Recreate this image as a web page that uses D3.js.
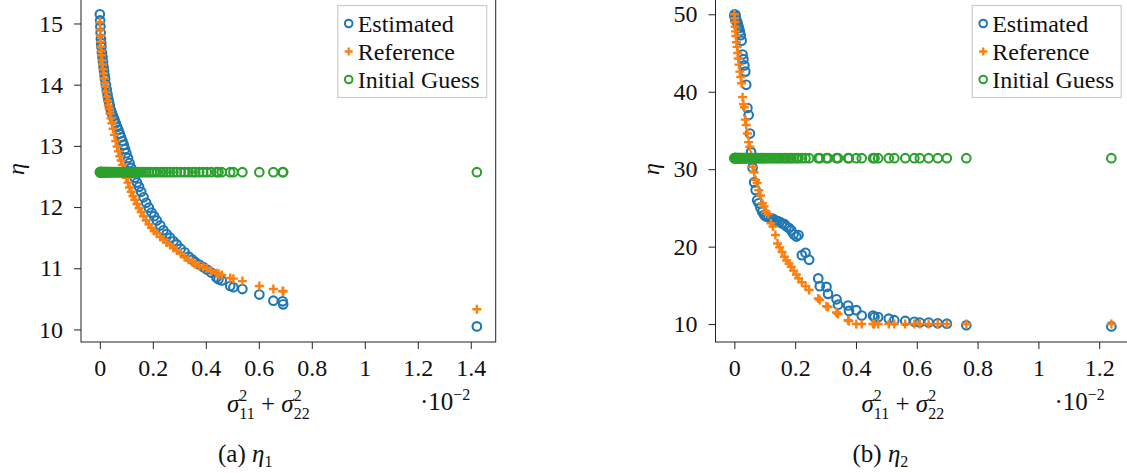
<!DOCTYPE html>
<meta charset="utf-8">
<style>
  body { margin: 0; background: #fff; }
  text { font-family: "Liberation Serif", "Times New Roman", serif; }
</style>
<div id="chart"></div>
<script src="https://d3js.org/d3.v7.min.js"></script>
<script>

// (a) eta_1 : x is sigma11^2 + sigma22^2 in units of 1e-2
var sigmaA = [0, 0.001, 0.002, 0.003, 0.004, 0.005, 0.006, 0.008, 0.01, 0.012, 0.014, 0.016, 0.018, 0.02,
  0.023, 0.026, 0.029, 0.032, 0.035, 0.038, 0.042, 0.046, 0.05, 0.055, 0.06, 0.065, 0.07, 0.075, 0.08,
  0.085, 0.09, 0.095, 0.1, 0.106, 0.112, 0.118, 0.125, 0.132, 0.14, 0.148, 0.156, 0.165, 0.175, 0.185,
  0.195, 0.205, 0.215, 0.228, 0.24, 0.252, 0.265, 0.278, 0.29, 0.305, 0.32, 0.335, 0.35, 0.36, 0.375,
  0.39, 0.404, 0.42, 0.44, 0.448, 0.46, 0.492, 0.504, 0.538, 0.602, 0.655, 0.69, 0.692, 1.423];
var estA = [15.15, 15.05, 14.95, 14.85, 14.75, 14.68, 14.62, 14.52, 14.45, 14.37, 14.29, 14.22, 14.15, 14.09,
  14.0, 13.92, 13.84, 13.77, 13.71, 13.65, 13.58, 13.53, 13.48, 13.43, 13.37, 13.31, 13.26, 13.2, 13.14,
  13.08, 13.02, 12.95, 12.88, 12.8, 12.72, 12.64, 12.56, 12.48, 12.4, 12.33, 12.25, 12.16, 12.07, 11.99,
  11.91, 11.85, 11.78, 11.7, 11.62, 11.56, 11.5, 11.44, 11.39, 11.32, 11.26, 11.19, 11.14, 11.1, 11.06,
  11.02, 10.98, 10.93, 10.85, 10.82, 10.8, 10.71, 10.69, 10.66, 10.57, 10.47, 10.46, 10.41, 10.05];
var refA = [15.02, 14.9, 14.8, 14.7, 14.62, 14.55, 14.48, 14.4, 14.33, 14.25, 14.18, 14.1, 14.03, 13.97,
  13.88, 13.8, 13.73, 13.66, 13.6, 13.53, 13.45, 13.37, 13.28, 13.18, 13.08, 12.99, 12.91, 12.83, 12.76,
  12.69, 12.62, 12.55, 12.48, 12.4, 12.32, 12.25, 12.18, 12.12, 12.05, 11.98, 11.92, 11.85, 11.78, 11.72,
  11.66, 11.61, 11.57, 11.51, 11.47, 11.42, 11.38, 11.33, 11.29, 11.24, 11.18, 11.14, 11.1, 11.07, 11.04,
  11.02, 11.0, 10.96, 10.92, 10.91, 10.89, 10.84, 10.83, 10.79, 10.71, 10.66, 10.63, 10.62, 10.33];
var guessA = 12.57;

// (b) eta_2
var sigmaB = [0, 0.001, 0.002, 0.003, 0.004, 0.005, 0.007, 0.009, 0.011, 0.013, 0.015, 0.018, 0.021, 0.024,
  0.027, 0.03, 0.033, 0.036, 0.039, 0.043, 0.047, 0.051, 0.055, 0.06, 0.065, 0.07, 0.075, 0.08, 0.086,
  0.092, 0.098, 0.104, 0.112, 0.12, 0.127, 0.135, 0.142, 0.149, 0.157, 0.165, 0.172, 0.18, 0.187, 0.195,
  0.204, 0.211, 0.222, 0.234, 0.246, 0.276, 0.281, 0.303, 0.308, 0.336, 0.341, 0.374, 0.377, 0.401, 0.419,
  0.456, 0.461, 0.473, 0.508, 0.526, 0.562, 0.592, 0.61, 0.639, 0.669, 0.699, 0.763, 1.24];
var estB = [49.8, 50.0, 49.6, 49.3, 49.9, 49.5, 49.2, 49.0, 48.8, 48.5, 48.2, 47.8, 47.3, 46.6,
  44.8, 44.2, 43.4, 42.6, 40.9, 37.9, 37.0, 34.6, 32.2, 30.2, 28.3, 27.3, 26.0, 25.6, 25.0,
  24.5, 24.1, 23.9, 23.8, 23.7, 23.6, 23.4, 23.3, 23.2, 23.0, 22.9, 22.6, 22.4, 22.1, 21.6,
  21.3, 21.5, 18.9, 19.2, 18.3, 15.9, 14.9, 14.8, 13.9, 13.2, 12.5, 12.4, 11.7, 11.8, 11.1,
  11.1, 10.9, 10.9, 10.7, 10.5, 10.4, 10.3, 10.2, 10.2, 10.1, 10.05, 9.85, 9.7];
var refB = [50.0, 49.5, 49.0, 48.4, 47.8, 47.2, 46.4, 45.8, 45.0, 44.3, 43.5, 42.6, 41.9, 41.1,
  39.3, 38.4, 38.0, 36.4, 35.7, 34.6, 33.5, 32.9, 31.8, 30.3, 29.6, 28.6, 28.2, 27.3, 26.6,
  25.6, 25.2, 24.5, 24.2, 23.0, 22.6, 21.5, 20.4, 19.9, 19.3, 18.7, 18.2, 17.8, 17.4, 16.9,
  16.4, 15.9, 15.4, 14.9, 14.4, 13.3, 13.1, 12.3, 12.2, 11.5, 11.3, 10.5, 10.4, 10.0, 10.0,
  10.0, 10.0, 10.0, 10.0, 10.0, 10.0, 10.0, 10.0, 10.0, 10.0, 10.0, 10.0, 10.0];
var guessB = 31.42;

var xTicks = [0, 0.2, 0.4, 0.6, 0.8, 1, 1.2, 1.4];
var yTicksA = [10, 11, 12, 13, 14, 15];
var yTicksB = [10, 20, 30, 40, 50];
var legendLabels = ["Estimated", "Reference", "Initial Guess"];
var colors = ["#1f77b4", "#ff7f0e", "#2ca02c"];

var width = 1127, height = 473;

var svg = d3.select("#chart").append("svg")
    .attr("width", width)
    .attr("height", height);

var panels = [
  { xs: sigmaA, est: estA, ref: refA, guess: guessA, yTicks: yTicksA, left: 81, caption: "a", sub: "1",
    xTicks: xTicks },
  { xs: sigmaB, est: estB, ref: refB, guess: guessB, yTicks: yTicksB, left: 715.5, caption: "b", sub: "2",
    xTicks: xTicks.slice(0, 7) }
];

var plotW = 414.7, plotTop = -1.3, plotBottom = 342;
var fmt = d3.format("");

// pgfplots style: enlarge limits by 5%
function enlarge(ext) {
  var d = (ext[1] - ext[0]) * 0.05;
  return [ext[0] - d, ext[1] + d];
}

function plus(x, y, s) {
  return "M" + (x - s) + "," + y + "H" + (x + s) + "M" + x + "," + (y - s) + "V" + (y + s);
}

panels.forEach(function(p) {
  var allY = p.est.concat(p.ref, [p.guess]);
  var x = d3.scaleLinear().domain(enlarge(d3.extent(p.xs))).range([p.left, p.left + plotW]);
  var y = d3.scaleLinear().domain(enlarge(d3.extent(allY))).range([plotBottom, plotTop]);

  var g = svg.append("g");

  // frame
  g.append("rect")
      .attr("x", p.left).attr("y", plotTop)
      .attr("width", plotW).attr("height", plotBottom - plotTop)
      .attr("fill", "none").attr("stroke", "#222").attr("stroke-width", 1);

  // x axis
  var xAxis = g.append("g")
      .attr("transform", "translate(0," + plotBottom + ")")
      .call(d3.axisBottom(x).tickValues(p.xTicks).tickSize(7).tickPadding(10).tickFormat(fmt));
  xAxis.select(".domain").remove();
  xAxis.selectAll("line").attr("stroke", "#222");
  xAxis.selectAll("text").attr("font-size", 24).attr("fill", "#111");

  // y axis
  var yAxis = g.append("g")
      .attr("transform", "translate(" + p.left + ",0)")
      .call(d3.axisLeft(y).tickValues(p.yTicks).tickSize(7).tickPadding(11).tickFormat(fmt));
  yAxis.select(".domain").remove();
  yAxis.selectAll("line").attr("stroke", "#222");
  yAxis.selectAll("text").attr("font-size", 24).attr("fill", "#111");

  var plot = g.append("g");

  // Estimated
  plot.append("g").selectAll("circle")
    .data(p.xs)
    .enter().append("circle")
      .attr("cx", function(d) { return x(d); })
      .attr("cy", function(d, i) { return y(p.est[i]); })
      .attr("r", 4.3)
      .attr("fill", "none")
      .attr("stroke", colors[0])
      .attr("stroke-width", 2.1);

  // Reference
  plot.append("g").selectAll("path")
    .data(p.xs)
    .enter().append("path")
      .attr("d", function(d, i) { return plus(x(d), y(p.ref[i]), 4.5); })
      .attr("stroke", colors[1])
      .attr("stroke-width", 2.4);

  // Initial guess
  plot.append("g").selectAll("circle")
    .data(p.xs)
    .enter().append("circle")
      .attr("cx", function(d) { return x(d); })
      .attr("cy", y(p.guess))
      .attr("r", 4.3)
      .attr("fill", "none")
      .attr("stroke", colors[2])
      .attr("stroke-width", 2.1);

  // legend
  var lx = p.left + plotW - 158, ly = 5.5;
  var legend = g.append("g").attr("transform", "translate(" + lx + "," + ly + ")");
  legend.append("rect")
      .attr("width", 149).attr("height", 92)
      .attr("fill", "#fff").attr("stroke", "#ccc").attr("stroke-width", 1.2);
  var item = legend.selectAll("g.item")
    .data(legendLabels)
    .enter().append("g")
      .attr("class", "item")
      .attr("transform", function(d, i) { return "translate(11," + (18 + i * 28) + ")"; });
  item.each(function(d, i) {
    var s = d3.select(this);
    if (i === 1) {
      s.append("path").attr("d", plus(0, 0, 4)).attr("stroke", colors[1]).attr("stroke-width", 2.3);
    } else {
      s.append("circle").attr("r", 3.8).attr("fill", "none")
        .attr("stroke", colors[i]).attr("stroke-width", 2);
    }
  });
  item.append("text")
      .attr("x", 9)
      .attr("dy", "0.35em")
      .attr("font-size", 24)
      .attr("fill", "#111")
      .text(function(d) { return d; });

  // y label
  g.append("text")
      .attr("transform", "translate(" + (p.left - 57) + ",169)rotate(-90)")
      .attr("text-anchor", "middle")
      .attr("font-size", 24)
      .attr("font-style", "italic")
      .attr("fill", "#111")
      .text("η");

  // x label: sigma_11^2 + sigma_22^2
  var xl = g.append("text")
      .attr("x", p.left + 146)
      .attr("y", 412)
      .attr("font-size", 25)
      .attr("fill", "#111");
  xl.append("tspan").attr("font-style", "italic").text("σ");
  xl.append("tspan").attr("font-size", 16).attr("dy", -11).text("2");
  xl.append("tspan").attr("font-size", 16).attr("dx", -8).attr("dy", 18).text("11");
  xl.append("tspan").attr("dy", -7).text(" + ");
  xl.append("tspan").attr("font-style", "italic").text("σ");
  xl.append("tspan").attr("font-size", 16).attr("dy", -11).text("2");
  xl.append("tspan").attr("font-size", 16).attr("dx", -8).attr("dy", 18).text("22");

  // scale factor
  var sf = g.append("text")
      .attr("x", p.left + 339)
      .attr("y", 410)
      .attr("font-size", 25)
      .attr("fill", "#111");
  sf.append("tspan").text("·10");
  sf.append("tspan").attr("font-size", 16).attr("dy", -10).text("−2");

  // caption
  var cap = g.append("text")
      .attr("x", p.left + 137)
      .attr("y", 462)
      .attr("font-size", 25)
      .attr("fill", "#111");
  cap.append("tspan").text("(" + p.caption + ") ");
  cap.append("tspan").attr("font-style", "italic").text("η");
  cap.append("tspan").attr("font-size", 16).attr("dy", 5).text(p.sub);
});

</script>
